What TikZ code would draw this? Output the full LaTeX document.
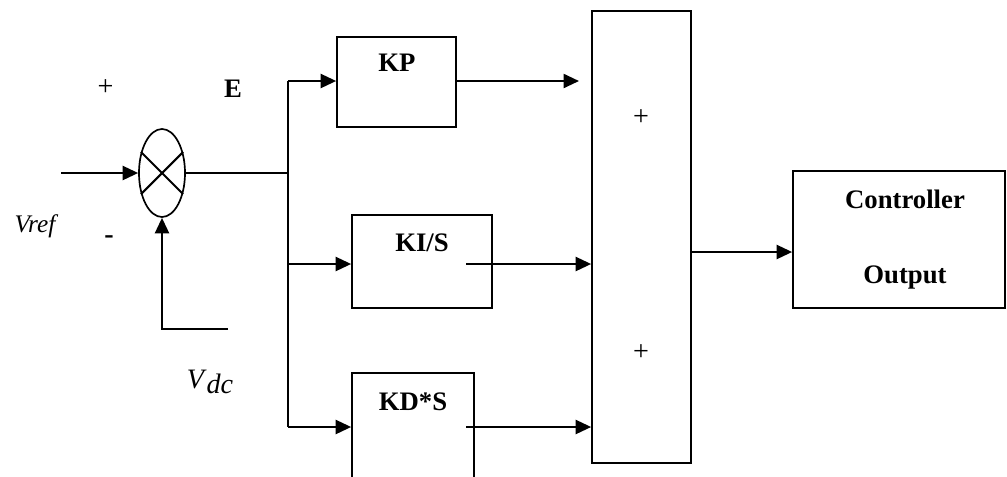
\documentclass[tikz,border=0pt]{standalone}
\usepackage{fontspec}
\setmainfont{Liberation Serif}
\usetikzlibrary{arrows.meta, positioning, calc, shapes.geometric}

\begin{document}
\begin{tikzpicture}[
  x=0.025cm, y=-0.025cm,
  wire/.style={line width=1.5pt},
  thinwire/.style={line width=0.8pt},
  arr/.style={wire, -{Triangle[length=11pt, width=10pt]}},
  block/.style={draw, line width=1.2pt, inner sep=0pt},
  sumj/.style={block, ellipse, minimum width=1.15cm, minimum height=2.2cm},
  blbl/.style={font=\fontsize{19}{21}\selectfont\bfseries},
  sign/.style={font=\fontsize{20}{22}\selectfont},
]
  \useasboundingbox (0,0) rectangle (1007,476);
  \clip (0,0) rectangle (1007,476);
  % Summing junction
  \node[sumj] (sum) at (162,173) {};
  \draw[wire] (sum.45) -- (sum.225);
  \draw[wire] (sum.135) -- (sum.315);
  \coordinate (vin) at (61,173);
  \draw[arr] (vin) -- (sum.west);
  \coordinate (fb) at (228,329);
  \draw[arr] (fb) -| (sum.south);
  % Signs and signal names
  \node[sign] (plus) at (105.5,88) {+};
  \node[sign] (minus) at (109,240) {\textbf{-}};
  \node[blbl] (elbl) at (233,89) {E};
  \node[font=\fontsize{18}{20}\selectfont\itshape] (vref) at (35,226) {Vref};
  \node (vdc) at (210,382)
    {\fontsize{20}{22}\selectfont\textit{V}\raisebox{-0.4ex}{\textit{dc}}};
  % Gain blocks
  \node[block, minimum width=2.975cm, minimum height=2.25cm]  (kp) at (396.5,82) {};
  \node[block, minimum width=3.5cm,   minimum height=2.325cm] (ki) at (422,261.5) {};
  \node[block, minimum width=3.05cm,  minimum height=2.625cm] (kd) at (413,425.5) {};
  \node[blbl] (kplbl) at (397,63)  {KP};
  \node[blbl] (kilbl) at (422,243) {KI/S};
  \node[blbl] (kdlbl) at (413,402) {KD*S};
  % Distribution bus
  \coordinate (bustop) at (288,81);
  \coordinate (busmid) at (288,173);
  \coordinate (busbot) at (288,427);
  \draw[thinwire] (sum.east) -- (busmid);
  \draw[wire] (bustop) -- (busbot);
  \draw[arr] (bustop) -- (kp.west |- bustop);
  \draw[arr] (288,264) -- (ki.west |- 0,264);
  \draw[arr] (busbot) -- (kd.west |- busbot);
  % Summation block
  \node[block, minimum width=2.475cm, minimum height=11.3cm] (add) at (641.5,237) {};
  \node[sign] (addp1) at (641,118) {+};
  \node[sign] (addp2) at (641,353) {+};
  \coordinate (kpend) at (579,81);
  \coordinate (kiout) at (466,264);
  \coordinate (kdout) at (466,427);
  \draw[arr] (kp.east |- bustop) -- (kpend);
  \draw[arr] (kiout) -- (kiout -| add.west);
  \draw[arr] (kdout) -- (kdout -| add.west);
  % Controller output
  \node[block, minimum width=5.3cm, minimum height=3.425cm] (ctrl) at (899,239.5) {};
  \node[blbl] (ctrl1) at (905,199) {Controller};
  \node[blbl] (ctrl2) at (905,277) {Output};
  \draw[arr] (add.east |- 0,252) -- (ctrl.west |- 0,252);
\end{tikzpicture}
\end{document}
